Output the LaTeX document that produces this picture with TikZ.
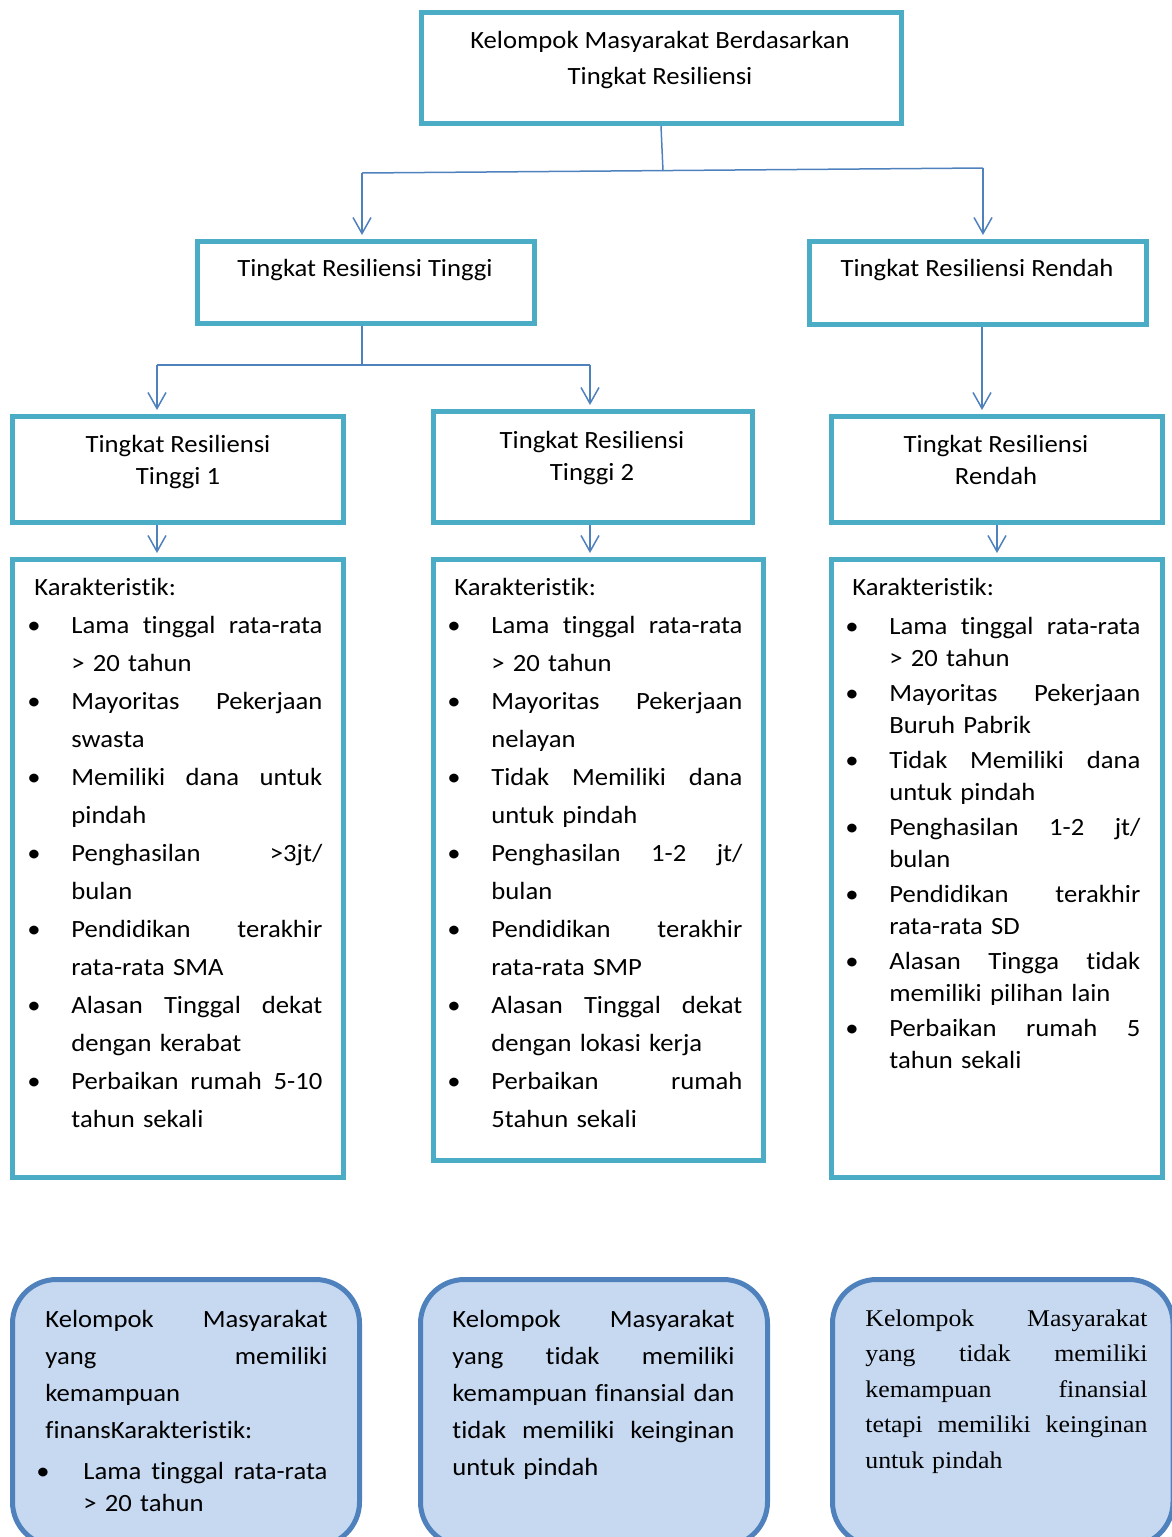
\documentclass[tikz,border=0pt]{standalone}
\usepackage{fontspec}
\setmainfont{Carlito}[FakeStretch=1.075,Ligatures=NoCommon]
\newfontfamily\hurufTimes{Liberation Serif}[FakeStretch=1.075]
\usetikzlibrary{arrows.meta}
\definecolor{tosca}{HTML}{4BACC6}
\definecolor{biru}{HTML}{4F81BD}
\definecolor{biruMuda}{HTML}{C6D9F1}
\newcommand{\rata}[2]{\makebox[#1][s]{\spaceskip=.25em plus 1fil minus .1em\relax #2}}
\newcommand{\butir}[2]{\par\noindent\hangindent=23.5pt\hangafter=1\makebox[23.5pt][l]{\hspace*{1.5pt}\textbullet}\rata{125.5pt}{#1}\newline #2\par}
\newcommand{\butirB}[2]{\par\noindent\hangindent=19pt\hangafter=1\makebox[19pt][l]{\hspace*{-4.5pt}\textbullet}\rata{122pt}{#1}\newline #2\par}

\begin{document}
\begin{tikzpicture}[x=0.5pt,y=0.5pt,yscale=-1,xscale=1,
	kotak/.style={draw=tosca, line width=2.5pt, rectangle, inner sep=0pt},
	bulat/.style={draw=biru, fill=biruMuda, line width=2.5pt, rounded corners=22pt, inner sep=0pt},
	garis/.style={draw=biru, line width=0.75pt},
	panah/.style={garis, shorten >=2pt, -{Straight Barb[length=8pt,width=9pt]}},
	judul/.style={inner sep=0pt, align=center, font=\fontsize{12.4}{16}\selectfont},
	daftar/.style={anchor=north west, inner sep=0pt, text width=149pt, align=left, font=\fontsize{12.4}{19}\selectfont},
	catatan/.style={anchor=north west, inner sep=0pt, text width=141pt, align=left, font=\fontsize{12.4}{18.5}\selectfont}]
			\useasboundingbox (0,0) rectangle (1172,1537);
			\clip (0,0) rectangle (1172,1537);
			\node[kotak, minimum width=240pt, minimum height=55.5pt] (k0) at (661,68) {};
			\node[kotak, minimum width=168.5pt, minimum height=41pt] (k1) at (366,282.5) {};
			\node[kotak, minimum width=168.5pt, minimum height=41.5pt] (k2) at (978,283) {};
			\node[kotak, minimum width=165.5pt, minimum height=53pt] (k3) at (178,469.5) {};
			\node[kotak, minimum width=159.5pt, minimum height=55.5pt] (k4) at (593,467) {};
			\node[kotak, minimum width=165.5pt, minimum height=53pt] (k5) at (997,469.5) {};
			\node[kotak, minimum width=165.5pt, minimum height=309pt] (c1) at (178,868.5) {};
			\node[kotak, minimum width=165pt, minimum height=300.5pt] (c2) at (598.5,860) {};
			\node[kotak, minimum width=165.5pt, minimum height=309pt] (c3) at (997,868.5) {};
			\node[bulat, minimum width=173.5pt, minimum height=133.25pt] (b1) at (186,1412.75) {};
			\node[bulat, minimum width=173.5pt, minimum height=133.25pt] (b2) at (594,1412.75) {};
			\node[bulat, minimum width=170.25pt, minimum height=133.25pt] (b3) at (1002.75,1412.75) {};
			\coordinate (j0) at (663,171);
			\coordinate (jl) at (362,173);
			\coordinate (jr) at (983,168);
			\coordinate (jt) at (362,365);
			\coordinate (jt1) at (157,365);
			\coordinate (jt2) at (590,365);
			\draw[garis] (k0.south) -- (j0);
			\draw[garis] (jl) -- (jr);
			\draw[panah] (jl) -- (jl |- k1.north);
			\draw[panah] (jr) -- (jr |- k2.north);
			\draw[garis] (jt |- k1.south) -- (jt);
			\draw[garis] (jt1) -- (jt2);
			\draw[panah] (jt1) -- (jt1 |- k3.north);
			\draw[panah] (jt2) -- (jt2 |- k4.north);
			\draw[panah] ([xshift=2pt]k2.south) coordinate (p2) -- (p2 |- k5.north);
			\draw[panah] ([xshift=-10.5pt]k3.south) coordinate (p3) -- (p3 |- c1.north);
			\draw[panah] ([xshift=-1.5pt]k4.south) coordinate (p4) -- (p4 |- c2.north);
			\draw[panah] (k5.south) -- (c3.north);
			\node[judul, font=\fontsize{12.4}{18}\selectfont] (t0) at (660,60.5) {Kelompok Masyarakat Berdasarkan\\Tingkat Resiliensi};
			\node[judul] (t1) at (365,270) {Tingkat Resiliensi Tinggi};
			\node[judul] (t2) at (977,270) {Tingkat Resiliensi Rendah};
			\node[judul] (t3) at (178,462.5) {Tingkat Resiliensi\\Tinggi 1};
			\node[judul] (t4) at (592,458) {Tingkat Resiliensi\\Tinggi 2};
			\node[judul] (t5) at (996,460) {Tingkat Resiliensi\\Rendah};
			\node[daftar] (d1) at (24,578) {\noindent\hspace*{5pt}Karakteristik:
				\butir{Lama tinggal rata-rata}{> 20 tahun}
				\butir{Mayoritas Pekerjaan}{swasta}
				\butir{Memiliki dana untuk}{pindah}
				\butir{Penghasilan >3jt/}{bulan}
				\butir{Pendidikan terakhir}{rata-rata SMA}
				\butir{Alasan Tinggal dekat}{dengan kerabat}
				\butir{Perbaikan rumah 5-10}{tahun sekali}};
			\node[daftar] (d2) at (444,578) {\noindent\hspace*{5pt}Karakteristik:
				\butir{Lama tinggal rata-rata}{> 20 tahun}
				\butir{Mayoritas Pekerjaan}{nelayan}
				\butir{Tidak Memiliki dana}{untuk pindah}
				\butir{Penghasilan 1-2 jt/}{bulan}
				\butir{Pendidikan terakhir}{rata-rata SMP}
				\butir{Alasan Tinggal dekat}{dengan lokasi kerja}
				\butir{Perbaikan rumah}{5tahun sekali}};
			\node[daftar, font=\fontsize{12.4}{16.25}\selectfont] (d3) at (842,578) {\setlength{\parskip}{1pt}\noindent\hspace*{5pt}Karakteristik:\par\vspace{2pt}
				\butir{Lama tinggal rata-rata}{> 20 tahun}
				\butir{Mayoritas Pekerjaan}{Buruh Pabrik}
				\butir{Tidak Memiliki dana}{untuk pindah}
				\butir{Penghasilan 1-2 jt/}{bulan}
				\butir{Pendidikan terakhir}{rata-rata SD}
				\butir{Alasan Tingga tidak}{memiliki pilihan lain}
				\butir{Perbaikan rumah 5}{tahun sekali}};
			\node[catatan] (n1) at (45,1310) {\rata{141pt}{Kelompok Masyarakat}\\\rata{141pt}{yang memiliki}\\kemampuan\\finansKarakteristik:
				\par\vspace{4.5pt}\fontsize{12.4}{16}\selectfont\butirB{Lama tinggal rata-rata}{> 20 tahun}};
			\node[catatan] (n2) at (452,1310) {\rata{141pt}{Kelompok Masyarakat}\\\rata{141pt}{yang tidak memiliki}\\\rata{141pt}{kemampuan finansial dan}\\\rata{141pt}{tidak memiliki keinginan}\\untuk pindah};
			\node[catatan, font=\hurufTimes\fontsize{12}{17.75}\selectfont] (n3) at (865,1309) {\rata{141pt}{Kelompok Masyarakat}\\\rata{141pt}{yang tidak memiliki}\\\rata{141pt}{kemampuan finansial}\\\rata{141pt}{tetapi memiliki keinginan}\\untuk pindah};
\end{tikzpicture}
\end{document}
